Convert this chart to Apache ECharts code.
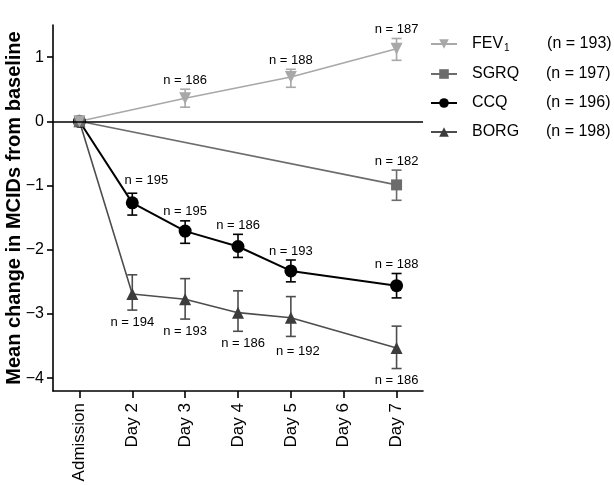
<!DOCTYPE html>
<html>
<head>
<meta charset="utf-8">
<script src="https://cdn.jsdelivr.net/npm/echarts@6/dist/echarts.min.js"></script>
<style>html,body{margin:0;padding:0;background:#fff}#c{width:614px;height:485px}</style>
</head>
<body>
<div id="c"></div>
<script>
// ---------- data ----------
const categories = ['Admission', 'Day 2', 'Day 3', 'Day 4', 'Day 5', 'Day 6', 'Day 7'];
const yTicks = [-4, -3, -2, -1, 0, 1];

const fevMean = [0, null, 0.36, null, 0.69, null, 1.13];
const fevLow  = [null, null, 0.22, null, 0.53, null, 0.95];
const fevHigh = [null, null, 0.50, null, 0.81, null, 1.29];
const fevN    = [null, null, 186, null, 188, null, 187];

const sgrqMean = [0, null, null, null, null, null, -0.99];
const sgrqLow  = [null, null, null, null, null, null, -1.23];
const sgrqHigh = [null, null, null, null, null, null, -0.76];
const sgrqN    = [null, null, null, null, null, null, 182];

const ccqMean = [0, -1.27, -1.71, -1.95, -2.33, null, -2.56];
const ccqLow  = [null, -1.46, -1.90, -2.12, -2.50, null, -2.75];
const ccqHigh = [null, -1.12, -1.55, -1.76, -2.16, null, -2.37];
const ccqN    = [null, 195, 195, 186, 193, null, 188];

const borgMean = [0, -2.69, -2.77, -2.98, -3.06, null, -3.53];
const borgLow  = [null, -2.94, -3.08, -3.27, -3.35, null, -3.85];
const borgHigh = [null, -2.39, -2.45, -2.64, -2.73, null, -3.19];
const borgN    = [null, 194, 193, 186, 192, null, 186];

const legendN = { FEV1: 193, SGRQ: 197, CCQ: 196, BORG: 198 };

// ---------- styling ----------
const FONT = '"Liberation Sans", Arial, Helvetica, sans-serif';
const C = { FEV1: '#a8a8a8', SGRQ: '#6c6c6c', CCQ: '#000000', BORG: '#4d4d4d' };
// small label nudges (pixels) to avoid overlaps, as in the original figure
const labelNudge = { 'CCQ-1': [14, -4], 'BORG-3': [5, 0], 'BORG-4': [7, 3] };

function errData(low, high, ns) {
  const out = [];
  for (let i = 0; i < low.length; i++) {
    if (low[i] !== null) out.push([i, low[i], high[i], ns[i]]);
  }
  return out;
}

function errSeries(name, low, high, ns, dir) {
  const color = C[name];
  return {
    type: 'custom',
    name: name + '-err',
    silent: true,
    z: 1,
    data: errData(low, high, ns),
    renderItem: function (params, api) {
      const i = api.value(0);
      const pLo = api.coord([i, api.value(1)]);
      const pHi = api.coord([i, api.value(2)]);
      const n = api.value(3);
      const x = pLo[0];
      const hw = 5;
      const ls = { stroke: color, lineWidth: 1.6 };
      const nud = labelNudge[name + '-' + i] || [0, 0];
      const ty = dir === 'above' ? pHi[1] - 9 : pLo[1] + 12;
      return {
        type: 'group',
        children: [
          { type: 'line', shape: { x1: x, y1: pLo[1], x2: x, y2: pHi[1] }, style: ls },
          { type: 'line', shape: { x1: x - hw, y1: pLo[1], x2: x + hw, y2: pLo[1] }, style: ls },
          { type: 'line', shape: { x1: x - hw, y1: pHi[1], x2: x + hw, y2: pHi[1] }, style: ls },
          { type: 'text', style: { text: 'n = ' + n, x: x + nud[0], y: ty + nud[1], align: 'center', verticalAlign: 'middle', fontSize: 13, fontFamily: FONT, fill: '#000' } }
        ]
      };
    }
  };
}

function lineSeries(name, data, symbol, size, extra) {
  return Object.assign({
    type: 'line',
    name: name,
    data: data,
    connectNulls: true,
    symbol: symbol,
    symbolSize: size,
    showAllSymbol: true,
    z: 3,
    lineStyle: { color: C[name], width: 1.6 },
    itemStyle: { color: C[name] }
  }, extra || {});
}

const chart = echarts.init(document.getElementById('c'), null, { renderer: 'canvas' });
chart.setOption({
  animation: false,
  backgroundColor: '#fff',
  textStyle: { fontFamily: FONT },
  grid: { left: 53, right: 191, top: 25, bottom: 94, containLabel: false, outerBoundsMode: 'none' },
  legend: {
    orient: 'vertical',
    left: 430,
    top: 36,
    padding: 0,
    itemWidth: 26,
    itemHeight: 12,
    itemGap: 13,
    data: ['FEV1', 'SGRQ', 'CCQ', 'BORG'],
    textStyle: {
      fontSize: 16, color: '#000', fontFamily: FONT, padding: [0, 0, 0, 10],
      rich: {
        nm: { fontSize: 16, fontFamily: FONT, color: '#000', width: 74 },
        fv: { fontSize: 16, fontFamily: FONT, color: '#000' },
        sub: { fontSize: 10, fontFamily: FONT, color: '#000', width: 43, verticalAlign: 'bottom', padding: [8, 0, 0, 1] },
        nn: { fontSize: 16, fontFamily: FONT, color: '#000' }
      }
    },
    formatter: function (name) {
      const tail = '{nn|(n = ' + legendN[name] + ')}';
      if (name === 'FEV1') return '{fv|FEV}{sub|1}' + tail;
      return '{nm|' + name + '}' + tail;
    }
  },
  xAxis: {
    type: 'category',
    data: categories,
    boundaryGap: true,
    axisLine: { show: true, onZero: false, lineStyle: { color: '#000', width: 1.6 } },
    axisTick: { show: true, alignWithLabel: true, length: 7, lineStyle: { color: '#000', width: 1.6 } },
    axisLabel: { rotate: 90, fontSize: 17, color: '#000', margin: 12, fontFamily: FONT, interval: 0 },
    splitLine: { show: false }
  },
  yAxis: {
    type: 'value',
    min: -4.2,
    max: 1.5,
    name: 'Mean change in MCIDs from baseline',
    nameLocation: 'middle',
    nameGap: 29,
    nameMoveOverlap: false,
    nameTextStyle: { fontSize: 20, fontWeight: 'bold', color: '#000', fontFamily: FONT },
    axisLine: { show: true, lineStyle: { color: '#000', width: 1.6 } },
    axisTick: { show: true, length: 6, customValues: yTicks, lineStyle: { color: '#000', width: 1.6 } },
    axisLabel: {
      fontSize: 16, color: '#000', margin: 9, fontFamily: FONT, customValues: yTicks,
      formatter: function (v) { return String(v).replace('-', '\u2212'); }
    },
    splitLine: { show: false }
  },
  series: [
    errSeries('BORG', borgLow, borgHigh, borgN, 'below'),
    errSeries('CCQ', ccqLow, ccqHigh, ccqN, 'above'),
    errSeries('SGRQ', sgrqLow, sgrqHigh, sgrqN, 'above'),
    errSeries('FEV1', fevLow, fevHigh, fevN, 'above'),
    lineSeries('BORG', borgMean, 'triangle', 12, {
      itemStyle: { color: '#3c3c3c' },
      markLine: {
        silent: true, symbol: 'none', label: { show: false },
        lineStyle: { color: '#000', width: 1.6, type: 'solid' },
        data: [{ yAxis: 0 }]
      }
    }),
    lineSeries('CCQ', ccqMean, 'circle', 13, { lineStyle: { color: '#000', width: 2 } }),
    lineSeries('SGRQ', sgrqMean, 'rect', 11),
    lineSeries('FEV1', fevMean, 'triangle', 12, { symbolRotate: 180 })
  ]
});
</script>
</body>
</html>
